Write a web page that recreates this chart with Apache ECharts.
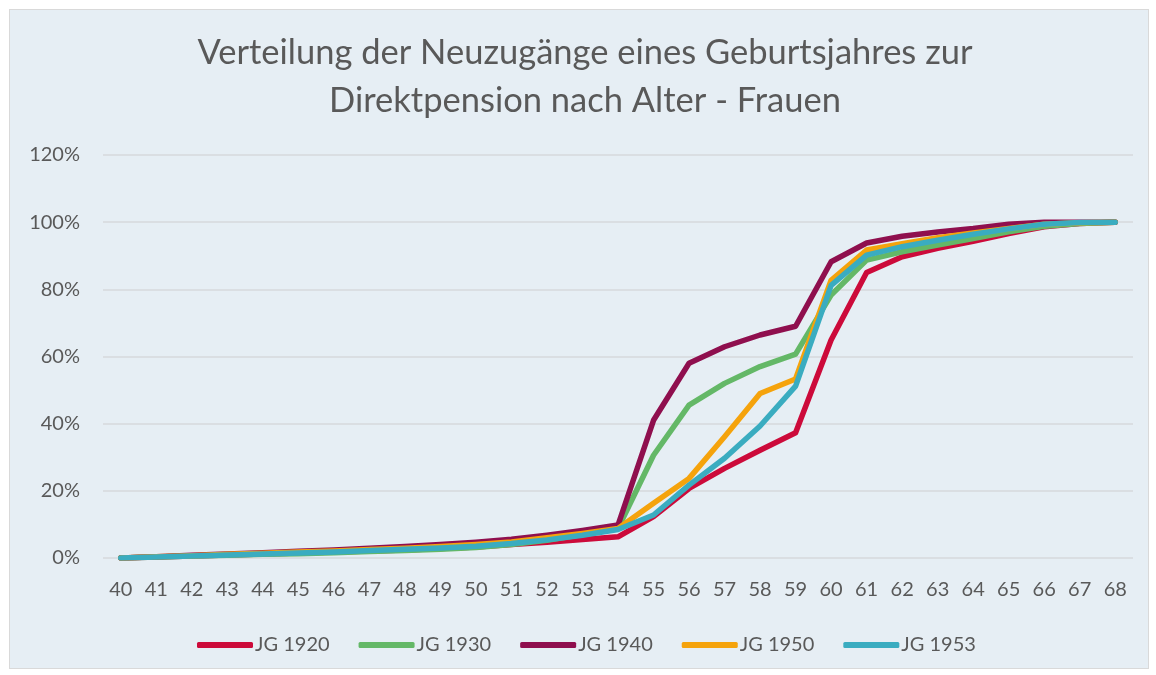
<!DOCTYPE html>
<html>
<head>
<meta charset="utf-8">
<script src="https://cdn.jsdelivr.net/npm/echarts@6/dist/echarts.min.js"></script>
<style>
    html, body { margin: 0; padding: 0; background: #ffffff; }
    #panel {
        position: absolute; left: 9px; top: 9px; width: 1138px; height: 658px;
        background: #e6eef4; border: 1px solid #d9d9d9;
    }
    #chart { position: absolute; left: 0; top: 0; width: 1156px; height: 675px; }
</style>
</head>
<body>
<div id="panel"></div>
<div id="chart"></div>
<script>
// Alter (Jahre)
var ages = ["40","41","42","43","44","45","46","47","48","49","50","51","52","53","54",
    "55","56","57","58","59","60","61","62","63","64","65","66","67","68"];

// kumulierter Anteil in %
var jg1920 = [0, 0.3, 0.6, 0.9, 1.2, 1.5, 1.8, 2.1, 2.4, 2.8, 3.3, 4.0, 4.7, 5.5, 6.3,
    12.3, 20.7, 26.7, 32.1, 37.3, 64.9, 85.0, 89.7, 92.2, 94.3, 96.6, 98.6, 99.6, 100];
var jg1930 = [0, 0.3, 0.6, 0.8, 1.1, 1.3, 1.6, 1.9, 2.2, 2.6, 3.1, 4.0, 5.3, 7.0, 8.8,
    30.6, 45.5, 52.0, 57.0, 60.7, 78.3, 88.7, 91.2, 93.2, 95.1, 97.1, 98.8, 99.6, 100];
var jg1940 = [0, 0.4, 0.8, 1.2, 1.6, 2.0, 2.4, 2.9, 3.4, 4.0, 4.7, 5.6, 6.8, 8.2, 9.8,
    41.0, 58.0, 62.9, 66.4, 69.0, 88.2, 93.8, 95.8, 97.1, 98.1, 99.4, 100, 100, 100];
var jg1950 = [0, 0.4, 0.7, 1.1, 1.4, 1.8, 2.1, 2.5, 2.9, 3.4, 4.0, 4.8, 6.0, 7.3, 8.8,
    16.3, 23.7, 36.1, 49.0, 53.3, 82.7, 91.7, 93.6, 95.4, 96.8, 98.1, 99.4, 99.8, 100];
var jg1953 = [0, 0.3, 0.6, 0.9, 1.2, 1.5, 1.8, 2.2, 2.6, 3.0, 3.5, 4.3, 5.4, 6.8, 8.5,
    12.8, 21.7, 29.7, 39.3, 51.2, 81.2, 90.2, 92.7, 94.6, 96.4, 98.0, 99.4, 99.9, 100];

var seriesNames = ["JG 1920", "JG 1930", "JG 1940", "JG 1950", "JG 1953"];
var seriesData = [jg1920, jg1930, jg1940, jg1950, jg1953];
var colors = ["#cc0a3a", "#64b867", "#8f0f4e", "#f5a30c", "#3aacc0"];

var fontFam = "Lato, 'Open Sans', sans-serif";
var textColor = "#595959";

var dom = document.getElementById("chart");
var myChart = echarts.init(dom, null, { renderer: "canvas" });

var series = seriesNames.map(function (name, i) {
    return {
        name: name,
        type: "line",
        data: seriesData[i],
        showSymbol: false,
        symbol: "none",
        lineStyle: { width: 5.5, color: colors[i], cap: "round", join: "round" },
        itemStyle: { color: colors[i] },
        emphasis: { disabled: true }
    };
});

var option = {
    backgroundColor: "transparent",
    animation: false,
    title: {
        text: "Verteilung der Neuzugänge eines Geburtsjahres zur\nDirektpension nach Alter - Frauen",
        left: 580,
        top: 24,
        textAlign: "center",
        textStyle: {
            fontFamily: fontFam,
            fontSize: 34.5,
            fontWeight: "normal",
            color: textColor,
            lineHeight: 48
        }
    },
    legend: {
        left: 192,
        top: 630,
        icon: "roundRect",
        itemWidth: 56,
        itemHeight: 6,
        itemGap: 29,
        textStyle: {
            fontFamily: fontFam,
            fontSize: 20,
            color: textColor,
            padding: [0, 0, 0, -3]
        },
        data: seriesNames
    },
    grid: { left: 103, right: 23, top: 155, bottom: 117, containLabel: false },
    xAxis: {
        type: "category",
        data: ages,
        boundaryGap: true,
        axisLine: { show: false },
        axisTick: { show: false },
        axisLabel: {
            fontFamily: fontFam,
            fontSize: 20,
            color: textColor,
            margin: 22,
            interval: 0
        }
    },
    yAxis: {
        type: "value",
        min: 0,
        max: 120,
        interval: 20,
        axisLine: { show: false },
        axisTick: { show: false },
        axisLabel: {
            fontFamily: fontFam,
            fontSize: 20,
            color: textColor,
            margin: 23,
            formatter: "{value}%"
        },
        splitLine: { lineStyle: { color: "#d6d9dc", width: 1.5 } }
    },
    series: series
};

myChart.setOption(option);
window.addEventListener("resize", myChart.resize);
</script>
</body>
</html>
